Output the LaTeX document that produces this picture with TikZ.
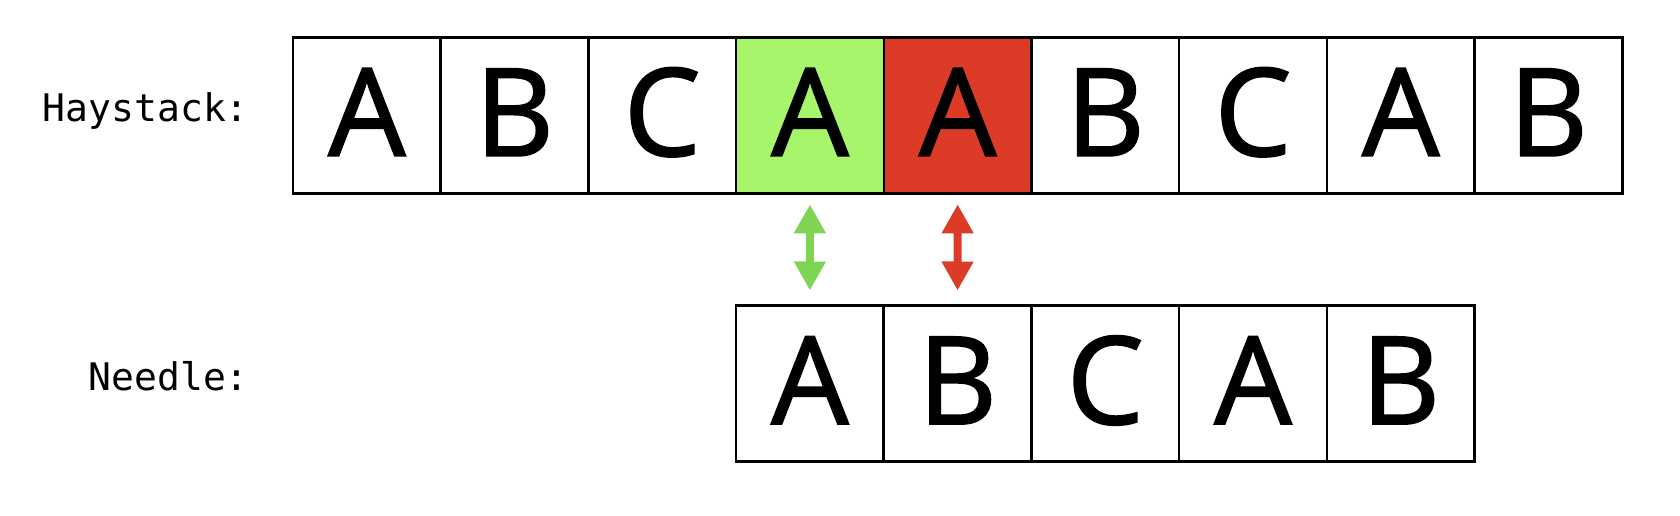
\documentclass[tikz,border=0pt]{standalone}
\usepackage{fontspec}
\setmainfont{Open Sans}
\newfontfamily\cellfont{Open Sans}[FakeBold=1.5]
\newfontfamily\monofont{DejaVu Sans Mono}
\usepackage{tikz}
\usetikzlibrary{positioning, arrows.meta}

\definecolor{matchgreen}{HTML}{A6F56A}
\definecolor{arrowgreen}{HTML}{80D454}
\definecolor{missred}{HTML}{DC3B27}

\begin{document}
\begin{tikzpicture}[x=1pt, y=-1pt,
    cell/.style={rectangle, draw, line width=2.5pt, minimum width=147.7pt, minimum height=156pt, inner sep=0pt, outer sep=0pt, text height=87pt, text depth=6pt, font=\cellfont\fontsize{122}{122}\selectfont},
    rowlabel/.style={anchor=east, inner sep=0pt, text height=28pt, text depth=0pt, font=\monofont\fontsize{38}{38}\selectfont},
    compare/.style={{Triangle[width=30pt,length=29pt]}-{Triangle[width=30pt,length=29pt]}, line width=8pt, shorten <=11pt, shorten >=15pt}]
        \useasboundingbox (0,0) rectangle (1680,516);

        % Row labels
        \node[rowlabel] (haylabel) at (249,107.5) {Haystack:};
        \node[rowlabel] (needlelabel) at (249,376.5) {Needle:};

        % Haystack cells
        \foreach \ch/\fc [count=\i] in {A/white,B/white,C/white,A/matchgreen,A/missred,B/white,C/white,A/white,B/white}
            \node[cell, fill=\fc] (h\i) at ({293+(\i-0.5)*147.7},115.3) {\ch};

        % Needle cells
        \foreach \ch [count=\j] in {A,B,C,A,B}
            \node[cell] (n\j) at ({736+(\j-0.5)*147.7},383.5) {\ch};

        % Arrows
        \draw[compare, arrowgreen] (h4.south) -- (n1.north);
        \draw[compare, missred] (h5.south) -- (n2.north);
    \end{tikzpicture}
\end{document}
